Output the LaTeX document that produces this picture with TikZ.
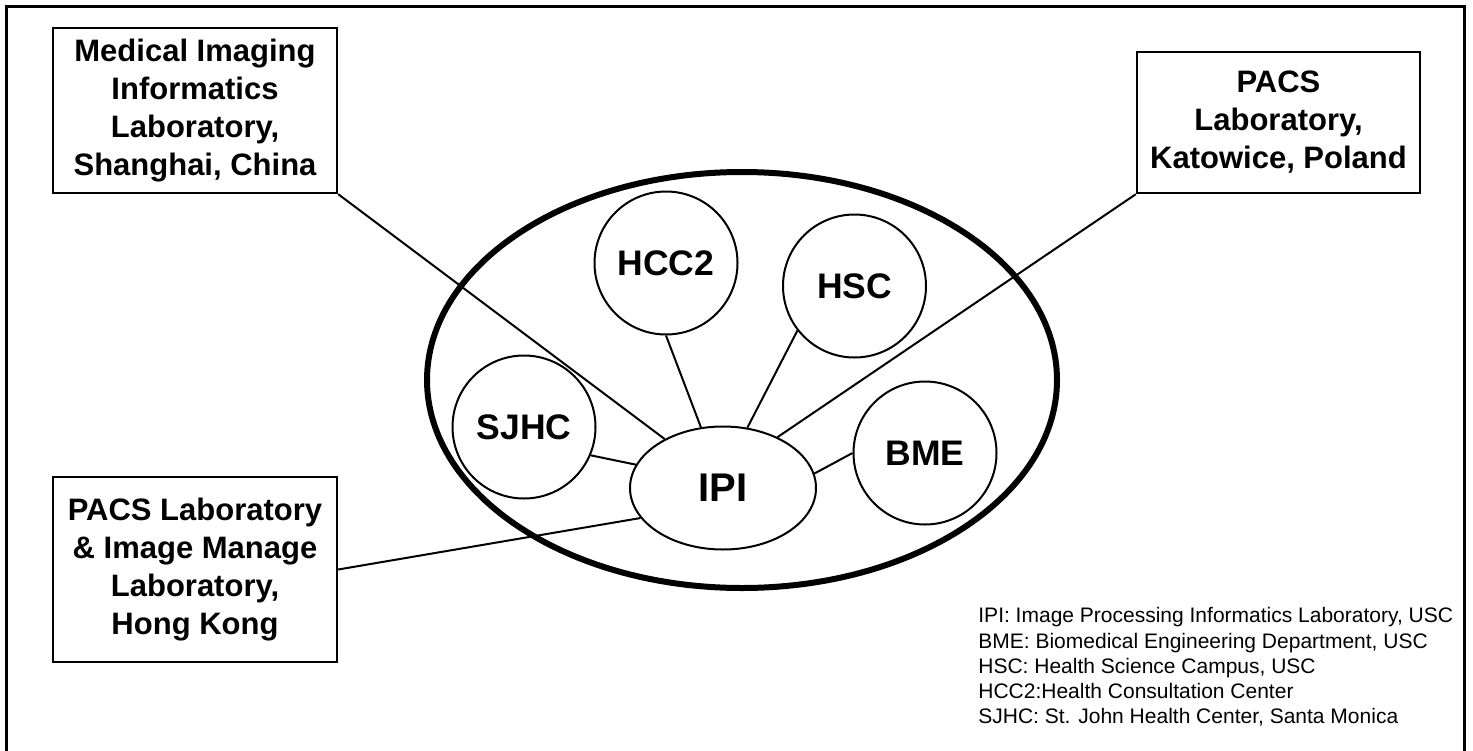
\documentclass[tikz,border=0pt]{standalone}
\usepackage{fontspec}
\setmainfont{Liberation Sans}
\usetikzlibrary{shapes.geometric}

\begin{document}
\begin{tikzpicture}[x=0.5pt,y=-0.5pt,
  labbox/.style={draw, line width=1.2pt, align=center, inner sep=0pt,
    font=\bfseries\fontsize{15.5}{19}\selectfont},
  site/.style={draw, circle, line width=1pt, minimum size=71.5pt, inner sep=0pt,
    font=\bfseries\fontsize{17.75}{20}\selectfont},
  link/.style={line width=1pt}
]
\useasboundingbox (0,0) rectangle (1473,750);
\clip (0,0) rectangle (1473,750);

% outer frame
\draw[line width=1.5pt] (6,6) rectangle (1464,800);

% network boundary
\draw[line width=3pt] (742,380) ellipse [x radius=315, y radius=208];

% remote laboratories
\node[labbox, minimum width=142pt, minimum height=82.5pt] (shanghai) at (195,110.5)
  {Medical Imaging\\Informatics\\Laboratory,\\Shanghai, China};
\node[labbox, minimum width=141.5pt, minimum height=70.5pt] (katowice) at (1278.5,122.5)
  {PACS\\Laboratory,\\Katowice, Poland};
\node[labbox, minimum width=142pt, minimum height=92.5pt] (hongkong) at (195,569.5)
  {PACS Laboratory\\\& Image Manage\\Laboratory,\\Hong Kong};

% hub and local sites
\node[draw, ellipse, line width=1pt, minimum width=93pt, minimum height=61.5pt, inner sep=0pt,
  font=\bfseries\fontsize{20}{24}\selectfont] (ipi) at (723,488) {IPI};
\node[site] (hcc2) at (666,263) {HCC2};
\node[site] (hsc) at (854.5,286) {HSC};
\node[site] (sjhc) at (524,427) {SJHC};
\node[site] (bme) at (925,453) {BME};

% connections
\draw[link] (shanghai.south east) -- (ipi.140);
\draw[link] (katowice.south west) -- (ipi.43);
\draw[link] (hongkong.east) -- (ipi.200);
\draw[link] (sjhc.-23) -- (ipi.165);
\draw[link] (hcc2.south) -- (ipi.110);
\draw[link] (hsc.218) -- (ipi.68);
\draw[link] (bme.west) -- (ipi.9);

% legend
\node[anchor=west, align=left, inner sep=0pt,
  font=\fontsize{10.5}{12.6}\selectfont] (legend) at (978,667)
  {IPI: Image Processing Informatics Laboratory, USC\\
   BME: Biomedical Engineering Department, USC\\
   HSC: Health Science Campus, USC\\
   HCC2:Health Consultation Center\\
   SJHC: St. John Health Center, Santa Monica};
\end{tikzpicture}
\end{document}
